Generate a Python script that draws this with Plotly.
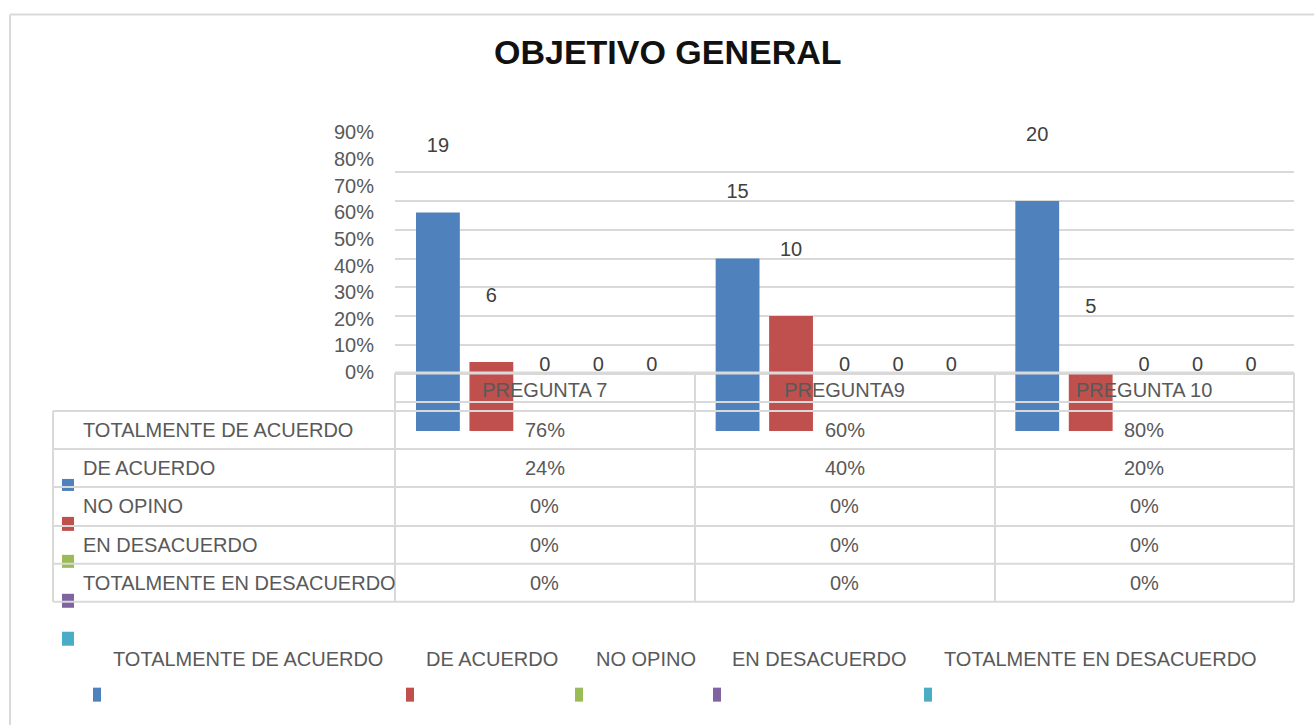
import plotly.graph_objs as go

W, H = 1314, 725

questions = ['PREGUNTA 7', 'PREGUNTA9', 'PREGUNTA 10']
series = ['TOTALMENTE DE ACUERDO', 'DE ACUERDO', 'NO OPINO',
          'EN DESACUERDO', 'TOTALMENTE EN DESACUERDO']
colors = ['#4f81bd', '#c0504d', '#9bbb59', '#8064a2', '#4bacc6']

# porcentajes por pregunta
pct_tot_acuerdo = [0.76, 0.60, 0.80]
pct_acuerdo = [0.24, 0.40, 0.20]
pct_no_opino = [0.0, 0.0, 0.0]
pct_desacuerdo = [0.0, 0.0, 0.0]
pct_tot_desacuerdo = [0.0, 0.0, 0.0]

# numero de respuestas (etiquetas de datos)
cnt_tot_acuerdo = [19, 15, 20]
cnt_acuerdo = [6, 10, 5]
cnt_no_opino = [0, 0, 0]
cnt_desacuerdo = [0, 0, 0]
cnt_tot_desacuerdo = [0, 0, 0]

pct = [pct_tot_acuerdo, pct_acuerdo, pct_no_opino,
       pct_desacuerdo, pct_tot_desacuerdo]
cnt = [cnt_tot_acuerdo, cnt_acuerdo, cnt_no_opino,
       cnt_desacuerdo, cnt_tot_desacuerdo]

grid_ticks = [0, 0.1, 0.2, 0.3, 0.4, 0.5, 0.6, 0.7, 0.8, 0.9]

FONT = 'Liberation Sans, Arial, sans-serif'
GRAY = '#595959'
LINE = '#d9d9d9'

# la captura sale algo comprimida en vertical; se compensa aqui
V_OFF, V_SCALE = 10.4, 0.971


def px(x):
    return x / W


def py(y):
    return 1 - ((y - V_OFF) / V_SCALE) / H


data = []
for i, name in enumerate(series):
    data.append(go.Bar(
        x=questions,
        y=pct[i],
        name=name,
        offsetgroup=str(i),
        marker=dict(color=colors[i], line=dict(width=0)),
        hoverinfo='name+y',
        showlegend=False))

# etiquetas de datos (desplazadas como en el original)
for i, name in enumerate(series):
    data.append(go.Bar(
        x=questions,
        y=pct[i],
        yaxis='y2',
        offsetgroup=str(i),
        text=[str(c) for c in cnt[i]],
        textposition='outside',
        constraintext='none',
        cliponaxis=False,
        textfont=dict(family=FONT, size=20, color='#404040'),
        marker=dict(color='rgba(0,0,0,0)', line=dict(width=0)),
        hoverinfo='skip',
        showlegend=False))

# eje de etiquetas (porcentajes y preguntas)
data.append(go.Scatter(
    x=questions, y=[0, 0, 0], xaxis='x2', yaxis='y3',
    mode='markers', marker=dict(opacity=0),
    hoverinfo='skip', showlegend=False))

shapes = []


def hline(y, x0, x1, w=2):
    shapes.append(dict(type='line', xref='paper', yref='paper',
                       x0=px(x0), x1=px(x1), y0=py(y), y1=py(y),
                       line=dict(color=LINE, width=w), layer='above'))


def vline(x, y0, y1, w=2):
    shapes.append(dict(type='line', xref='paper', yref='paper',
                       x0=px(x), x1=px(x), y0=py(y0), y1=py(y1),
                       line=dict(color=LINE, width=w), layer='above'))


# marco exterior
hline(14, 10, 1314)
vline(10, 14, 740)

# tabla de datos
rows_y = [411, 449, 487, 526, 564, 602]
hline(373, 395, 1294, 3)
hline(402, 395, 1294)
for y in rows_y:
    hline(y, 53, 1294)
vline(53, 411, 602)
for x in [395, 695, 995, 1294]:
    vline(x, 373, 602)

annotations = []
annotations.append(dict(
    text='<b>OBJETIVO GENERAL</b>', xref='paper', yref='paper',
    x=px(668), y=py(51), xanchor='center', yanchor='middle',
    showarrow=False,
    font=dict(family=FONT, size=34, color='#111111')))

row_centers = [430, 468, 506, 545, 583]
for i, name in enumerate(series):
    annotations.append(dict(
        text=name, xref='paper', yref='paper', x=px(81), y=py(row_centers[i]),
        xanchor='left', yanchor='middle', showarrow=False,
        font=dict(family=FONT, size=20, color=GRAY)))
    for j, q in enumerate(questions):
        annotations.append(dict(
            text='{:.0%}'.format(pct[i][j]), xref='x', yref='paper',
            x=q, y=py(row_centers[i]), xanchor='center', yanchor='middle',
            showarrow=False,
            font=dict(family=FONT, size=20, color=GRAY)))

# claves de leyenda dentro de la tabla (desplazadas)
key_y = [(479, 491), (517, 531), (555, 568), (594, 608), (632, 646)]
for i in range(len(series)):
    shapes.append(dict(type='rect', xref='paper', yref='paper',
                       x0=px(62), x1=px(74),
                       y0=py(key_y[i][0]), y1=py(key_y[i][1]),
                       fillcolor=colors[i], line=dict(width=0),
                       layer='below'))

# leyenda inferior
leg_text_x = [248, 492, 646, 819, 1100]
leg_key_x = [93, 406, 575, 713, 924]
for i, name in enumerate(series):
    annotations.append(dict(
        text=name, xref='paper', yref='paper',
        x=px(leg_text_x[i]), y=py(659), xanchor='center', yanchor='middle',
        showarrow=False,
        font=dict(family=FONT, size=20, color=GRAY)))
    shapes.append(dict(type='rect', xref='paper', yref='paper',
                       x0=px(leg_key_x[i]), x1=px(leg_key_x[i] + 8),
                       y0=py(688), y1=py(702),
                       fillcolor=colors[i], line=dict(width=0)))

layout = go.Layout(
    width=W, height=H, autosize=False,
    margin=dict(l=0, r=0, t=0, b=0),
    paper_bgcolor='white', plot_bgcolor='rgba(0,0,0,0)',
    font=dict(family=FONT, size=20, color=GRAY),
    barmode='group', bargap=0.108, bargroupgap=0.18,
    showlegend=False,
    xaxis=dict(domain=[px(395), px(1294)], range=[-0.5, 2.5],
               showticklabels=False, showgrid=False, zeroline=False,
               showline=False, fixedrange=True),
    # 0 en y=431 px, 0.1 cada 28.78 px; dominio ampliado para etiquetas
    yaxis=dict(domain=[py(431), py(85.6)], range=[0, 1.2],
               tickvals=grid_ticks,
               showticklabels=False, showgrid=True, gridcolor=LINE,
               gridwidth=2, zeroline=False, showline=False,
               fixedrange=True),
    yaxis2=dict(overlaying='y', range=[-0.186, 1.014], showgrid=False,
                showticklabels=False, zeroline=False, showline=False,
                fixedrange=True),
    xaxis2=dict(domain=[px(395), px(1294)], range=[-0.5, 2.5],
                anchor='y3', showgrid=False, zeroline=False,
                showline=False, ticks='', ticklabelstandoff=4,
                tickfont=dict(family=FONT, size=20, color=GRAY),
                fixedrange=True),
    yaxis3=dict(domain=[py(372), py(132)], range=[0, 0.9], dtick=0.1,
                anchor='x2', tickformat='.0%', showgrid=False,
                zeroline=False, showline=False, ticks='',
                ticklabelstandoff=20,
                tickfont=dict(family=FONT, size=20, color=GRAY),
                fixedrange=True),
    shapes=shapes,
    annotations=annotations,
)

fig = go.Figure(data=data, layout=layout)

# el grafico ocupa exactamente la ventana
pin = ("var d = document.getElementById('{plot_id}');"
       "d.style.position = 'fixed'; d.style.top = '0px';"
       "d.style.left = '0px';"
       "document.body.style.margin = '0';"
       "document.body.style.overflow = 'hidden';")
fig.write_html('out.html', config={'displayModeBar': False},
               post_script=pin)
